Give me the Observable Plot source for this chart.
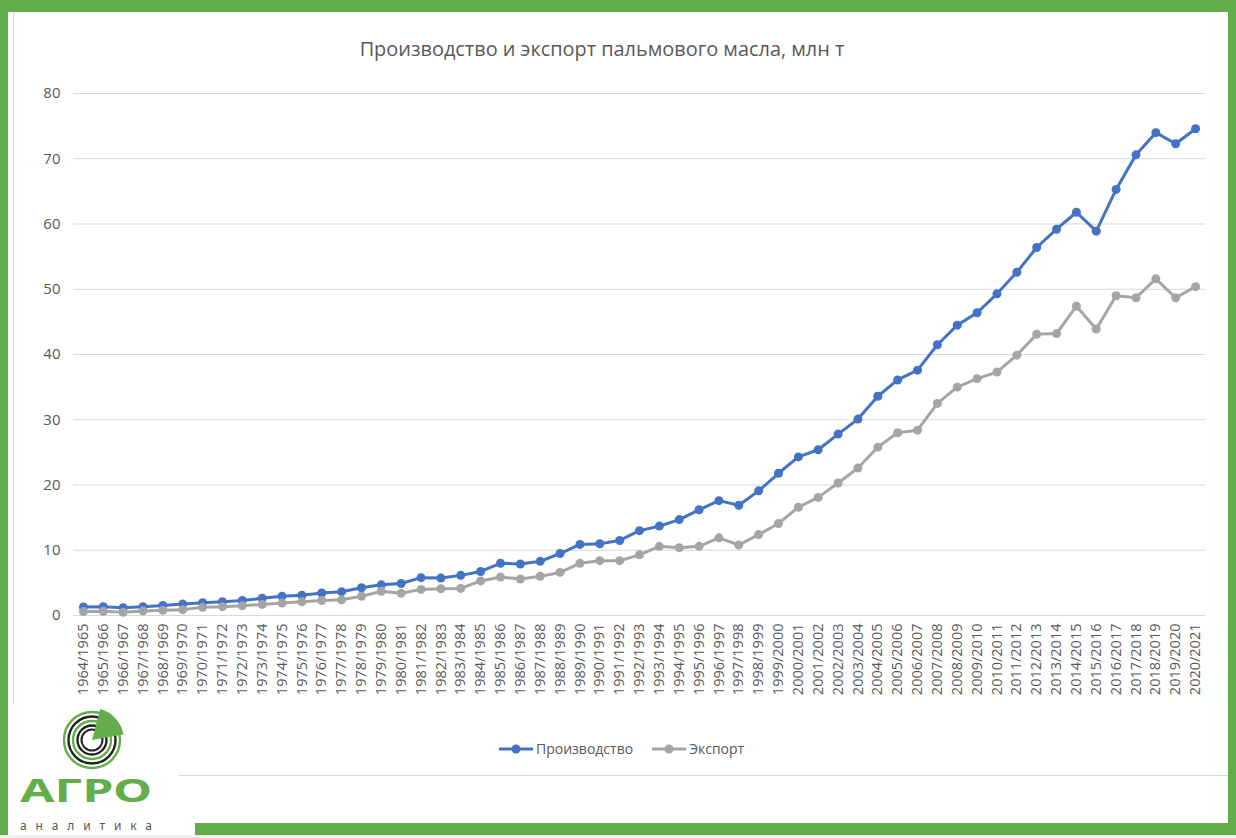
<!DOCTYPE html>
<html><head><meta charset="utf-8">
<script src="https://cdn.jsdelivr.net/npm/d3@7"></script>
<script src="https://cdn.jsdelivr.net/npm/@observablehq/plot@0.6"></script>
<style>
body{margin:0;background:#fff;}
#page{position:relative;width:1236px;height:838px;background:#fff;overflow:hidden;font-family:"Open Sans",sans-serif;}
.g{position:absolute;background:#63ad4a;z-index:5;}
.ln{position:absolute;background:#d9d9d9;}
#title{position:absolute;left:0;width:1204px;top:35px;text-align:center;font-size:19.9px;color:#595959;}
#chart{position:absolute;left:0;top:0;}
#legend{position:absolute;top:739px;left:498px;font-size:14px;color:#595959;display:flex;align-items:center;}
#legend .item{display:flex;align-items:center;margin-right:18px;}
#logo{position:absolute;left:0;top:700px;z-index:4;}
</style></head><body>
<div id="page">
  <div class="ln" style="left:13px;top:12px;width:1px;height:693px"></div>
  <div class="ln" style="left:179px;top:775px;width:1049px;height:1px;z-index:5"></div>
  <div id="title">Производство и экспорт пальмового масла, млн т</div>
  <div id="chart"></div>
  <div id="legend"></div>
  <svg id="logo" width="195" height="138"></svg>
  <div class="g" style="left:0;top:0;width:1236px;height:12px"></div>
  <div class="g" style="left:0;top:0;width:8px;height:835px"></div>
  <div class="g" style="left:1228px;top:0;width:8px;height:835px"></div>
  <div class="g" style="left:195px;top:823px;width:1041px;height:12px"></div>
  <div style="position:absolute;left:0;top:835px;width:1236px;height:3px;background:#f0f0f0;z-index:6"></div>
</div>
<script>
const seasons = ["1964/1965","1965/1966","1966/1967","1967/1968","1968/1969","1969/1970","1970/1971","1971/1972","1972/1973","1973/1974","1974/1975","1975/1976","1976/1977","1977/1978","1978/1979","1979/1980","1980/1981","1981/1982","1982/1983","1983/1984","1984/1985","1985/1986","1986/1987","1987/1988","1988/1989","1989/1990","1990/1991","1991/1992","1992/1993","1993/1994","1994/1995","1995/1996","1996/1997","1997/1998","1998/1999","1999/2000","2000/2001","2001/2002","2002/2003","2003/2004","2004/2005","2005/2006","2006/2007","2007/2008","2008/2009","2009/2010","2010/2011","2011/2012","2012/2013","2013/2014","2014/2015","2015/2016","2016/2017","2017/2018","2018/2019","2019/2020","2020/2021"];
const production = [1.3,1.35,1.2,1.35,1.55,1.75,1.95,2.1,2.3,2.65,2.95,3.1,3.45,3.65,4.25,4.7,4.9,5.8,5.75,6.15,6.75,8.0,7.9,8.3,9.5,10.9,11.0,11.5,13.0,13.7,14.7,16.2,17.6,16.9,19.1,21.8,24.3,25.4,27.8,30.1,33.6,36.1,37.6,41.5,44.5,46.4,49.3,52.6,56.4,59.2,61.8,58.9,65.3,70.6,74.0,72.3,74.6];
const exportVals = [0.6,0.65,0.5,0.7,0.8,0.9,1.25,1.35,1.5,1.7,1.9,2.1,2.3,2.4,2.95,3.7,3.4,4.0,4.1,4.15,5.3,5.9,5.6,6.0,6.6,8.0,8.4,8.4,9.3,10.6,10.4,10.6,11.9,10.8,12.4,14.1,16.6,18.1,20.3,22.6,25.8,28.0,28.4,32.5,35.0,36.3,37.3,39.9,43.1,43.2,47.4,43.9,49.0,48.7,51.6,48.7,50.4];
const yTicks = [0,10,20,30,40,50,60,70,80];
const seriesNames = ["Производство","Экспорт"];
const seriesColors = ["#4472c4","#a5a5a5"];

const data = [];
seasons.forEach((s,i)=>{
  data.push({season:s, value:production[i], series:seriesNames[0]});
});
seasons.forEach((s,i)=>{
  data.push({season:s, value:exportVals[i], series:seriesNames[1]});
});

const chart = Plot.plot({
  width:1236, height:720,
  marginLeft:73, marginRight:31, marginTop:93, marginBottom:105,
  style:{fontFamily:"Open Sans, sans-serif", color:"#595959", background:"transparent", overflow:"visible"},
  x:{type:"point", domain:seasons, padding:0.5, label:null},
  y:{domain:[0,80], label:null},
  color:{domain:seriesNames, range:seriesColors},
  marks:[
    Plot.ruleY(yTicks,{stroke:"#d9d9d9", strokeWidth:1}),
    Plot.axisY(yTicks,{tickSize:0, tickPadding:13, fontSize:15, label:null}),
    Plot.axisX({tickSize:0, tickRotate:-90, tickPadding:8, fontSize:14.5, label:null}),
    Plot.line(data,{x:"season", y:"value", z:"series", stroke:"series", strokeWidth:3, strokeLinejoin:"round"}),
    Plot.dot(data,{x:"season", y:"value", fill:"series", r:4.5, stroke:"none"})
  ]
});
document.getElementById("chart").appendChild(chart);

const legend = document.getElementById("legend");
seriesNames.forEach((n,i)=>{
  const it = document.createElement("div");
  it.className="item";
  it.innerHTML = `<svg width="36" height="12" style="margin-right:2px"><line x1="1" x2="35" y1="6" y2="6" stroke="${seriesColors[i]}" stroke-width="3"/><circle cx="18" cy="6" r="4.5" fill="${seriesColors[i]}"/></svg><span>${n}</span>`;
  legend.appendChild(it);
});

// logo (decoration)
const logo = d3.select("#logo");
logo.append("rect").attr("x",8).attr("y",5).attr("width",171).attr("height",133).attr("fill","#fff");
const cx=92, cy=40;
[[28,"#63ad4a",2.4],[23.5,"#222",2.4],[19,"#63ad4a",2.4],[14.5,"#222",2.4],[10.5,"#222",2]].forEach(([r,c,w])=>{
  logo.append("circle").attr("cx",cx).attr("cy",cy).attr("r",r).attr("fill","none").attr("stroke",c).attr("stroke-width",w);
});
const arc = d3.arc().innerRadius(0).outerRadius(32).startAngle(Math.PI*15/180).endAngle(Math.PI*80/180);
logo.append("path").attr("d",arc()).attr("transform",`translate(${cx},${cy})`).attr("fill","#63ad4a");
logo.append("text").attr("x",20).attr("y",102).attr("font-family","Noto Sans, sans-serif").attr("font-weight",700)
  .attr("font-size",33).attr("fill","#63ad4a").attr("textLength",132).attr("lengthAdjust","spacingAndGlyphs").text("АГРО");
logo.append("text").attr("x",20).attr("y",130).attr("font-family","Noto Sans, sans-serif")
  .attr("font-size",12).attr("fill","#555").attr("textLength",132).attr("lengthAdjust","spacing").text("аналитика");
</script>
</body></html>
